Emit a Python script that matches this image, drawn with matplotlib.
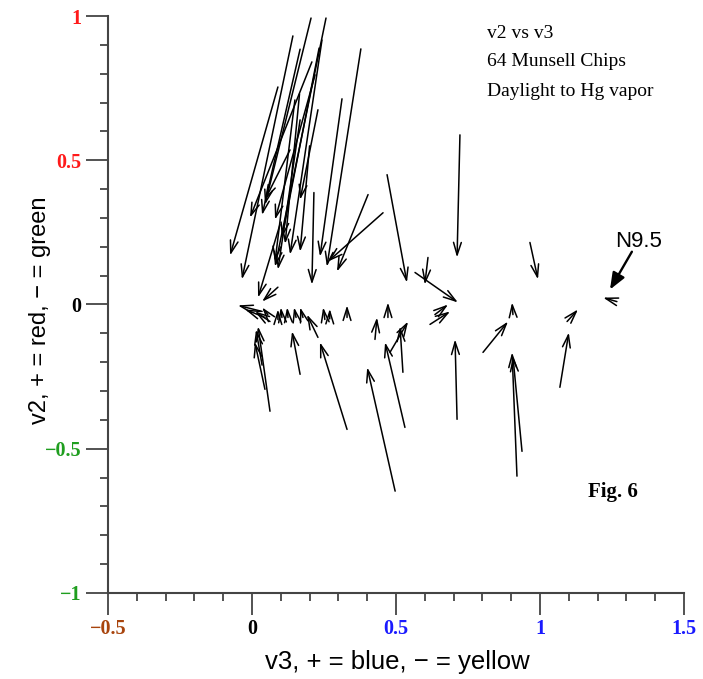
import matplotlib
matplotlib.use("Agg")
import matplotlib.pyplot as plt
from matplotlib.ticker import MultipleLocator

# daylight (start) and Hg vapor (end) positions of the 64 Munsell chips
day_v3 = [0.090, 0.142, 0.205, 0.257, 0.233, 0.208, 0.219, 0.378, 0.3125, 0.167,
          0.229, 0.200, 0.132, 0.215, 0.403, 0.455, 0.469, 0.722, 0.965, 0.611,
          0.566, 0.097, 0.149, 0.165, 0.167, 0.243,
          0.090, 0.125, 0.153, 0.177, 0.229, 0.253, 0.270, 0.330, 0.427, 0.472,
          0.524, 0.479, 0.531, 0.497, 0.330, 0.167, 0.0625, 0.045, 0.035, 0.712,
          0.920, 0.9375, 0.802, 0.906, 1.069, 1.094, 1.267, 0.618, 0.635,
          0.035, 0.045, 0.0625, 0.055, 0.090, 0.104]
day_v2 = [0.754, 0.931, 0.993, 0.993, 0.889, 0.841, 0.796, 0.886, 0.713, 0.640,
          0.675, 0.550, 0.536, 0.388, 0.381, 0.318, 0.450, 0.588, 0.215, 0.163,
          0.111, 0.277, 0.709, 0.730, 0.885, 0.917,
          -0.052, -0.045, -0.045, -0.045, -0.114, -0.052, -0.050, -0.045, -0.121, -0.045,
          -0.235, -0.166, -0.426, -0.647, -0.433, -0.242, -0.370, -0.294, -0.210, -0.398,
          -0.595, -0.509, -0.166, -0.035, -0.287, -0.059, 0.010, -0.069, -0.035,
          -0.024, -0.045, -0.059, -0.035, 0.060, -0.045]
hg_v3 = [-0.076, -0.035, 0.045, 0.080, 0.104, -0.007, 0.080, 0.260, 0.236, 0.090,
         0.167, 0.167, 0.045, 0.208, 0.295, 0.264, 0.538, 0.712, 0.993, 0.600,
         0.715, 0.021, 0.080, 0.115, 0.035, 0.132,
         0.090, 0.122, 0.146, 0.167, 0.191, 0.247, 0.270, 0.330, 0.434, 0.472,
         0.514, 0.542, 0.462, 0.400, 0.236, 0.139, 0.021, 0.010, 0.014, 0.705,
         0.903, 0.906, 0.889, 0.903, 1.100, 1.132, 1.219, 0.688, 0.681,
         -0.049, -0.024, 0.010, 0.035, 0.035, 0.100]
hg_v2 = [0.170, 0.087, 0.346, 0.131, 0.232, 0.301, 0.294, 0.131, 0.166, 0.121,
         0.363, 0.183, 0.363, 0.069, 0.114, 0.149, 0.076, 0.163, 0.087, 0.069,
         0.007, 0.024, 0.149, 0.210, 0.310, 0.173,
         -0.017, -0.010, -0.010, -0.010, -0.035, -0.010, -0.015, -0.003, -0.045, 0.007,
         -0.076, -0.059, -0.131, -0.218, -0.131, -0.093, -0.076, -0.131, -0.087, -0.121,
         -0.166, -0.180, -0.059, 0.007, -0.097, -0.017, 0.024, -0.024, 0.000,
         -0.003, -0.017, -0.024, -0.010, 0.010, -0.010]

x_ticks = [-0.5, 0, 0.5, 1, 1.5]
x_labels = ["\u22120.5", "0", "0.5", "1", "1.5"]
x_colors = ["#a8440c", "black", "#1a1aff", "#1a1aff", "#1a1aff"]
y_ticks = [-1, -0.5, 0, 0.5, 1]
y_labels = ["\u22121", "\u22120.5", "0", "0.5", "1"]
y_colors = ["#1f9e1f", "#1f9e1f", "black", "#ff1a1a", "#ff1a1a"]

title_lines = ["v2 vs v3", "64 Munsell Chips", "Daylight to Hg vapor"]
title_y = [0.941, 0.841, 0.740]

fig = plt.figure(figsize=(7.03, 6.79), dpi=100)
ax = fig.add_axes([0.1536, 0.1267, 0.8194, 0.8497])
ax.set_xlim(-0.5, 1.5)
ax.set_ylim(-1, 1)

for x0, y0, x1, y1 in zip(day_v3, day_v2, hg_v3, hg_v2):
    ax.annotate("", xy=(x1, y1), xytext=(x0, y0), annotation_clip=False,
                arrowprops=dict(arrowstyle="->,head_length=0.9,head_width=0.28",
                                color="black", lw=1.1, shrinkA=0, shrinkB=0,
                                mutation_scale=10))

for side in ("top", "right"):
    ax.spines[side].set_visible(False)
for side in ("left", "bottom"):
    ax.spines[side].set_color("#444444")
    ax.spines[side].set_linewidth(1.5)

ax.xaxis.set_minor_locator(MultipleLocator(0.1))
ax.yaxis.set_minor_locator(MultipleLocator(0.1))
ax.tick_params(which="major", direction="out", length=16, width=1.3, color="#444444", pad=3)
ax.tick_params(which="minor", direction="out", length=6, width=1.3, color="#444444")
ax.set_xticks(x_ticks)
ax.set_xticklabels(x_labels, family="Liberation Serif", weight="bold", fontsize=14.5)
ax.set_yticks(y_ticks)
ax.set_yticklabels(y_labels, family="Liberation Serif", weight="bold", fontsize=14.5)
for lab, c in zip(ax.get_xticklabels(), x_colors):
    lab.set_color(c)
for lab, c in zip(ax.get_yticklabels(), y_colors):
    lab.set_color(c)

ax.set_xlabel("v3, + = blue, \u2212 = yellow", family="Liberation Sans", fontsize=18.5)
ax.set_ylabel("v2, + = red, \u2212 = green", family="Liberation Sans", fontsize=17)
ax.xaxis.set_label_coords(0.502, -0.12)
ax.xaxis.label.set_va("center")
ax.yaxis.set_label_coords(-0.118, 0.49)
ax.yaxis.label.set_va("center")

for txt, ty in zip(title_lines, title_y):
    ax.text(0.816, ty, txt, family="Liberation Serif", fontsize=14, va="center", ha="left")
ax.text(1.167, -0.65, "Fig. 6", family="Liberation Serif", weight="bold", fontsize=15, va="center")
ax.text(1.26, 0.22, "N9.5", family="Liberation Sans", fontsize=16, ha="left", va="center")
ax.annotate("", xy=(1.243, 0.052), xytext=(1.319, 0.183), annotation_clip=False,
            arrowprops=dict(arrowstyle="-|>,head_length=1.0,head_width=0.4", color="black",
                            lw=1.7, shrinkA=0, shrinkB=0, mutation_scale=10))

fig.savefig("out.png", dpi=100)
